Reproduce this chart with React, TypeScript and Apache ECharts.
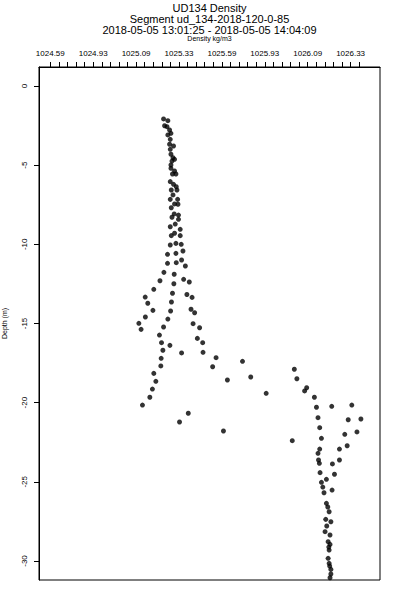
import React, { useEffect, useRef } from "react";
import * as echarts from "echarts";

const titleLines = [
  "UD134 Density",
  "Segment ud_134-2018-120-0-85",
  "2018-05-05 13:01:25 - 2018-05-05 14:04:09",
];

const densityLabelTexts = ["1024.59", "1024.93", "1025.09", "1025.33", "1025.59", "1025.93", "1026.09", "1026.33"];
const densityLabelValues = [1024.59, 1024.84, 1025.09, 1025.34, 1025.59, 1025.84, 1026.09, 1026.34];
const densityTickValues = [
  1024.59, 1024.64, 1024.69, 1024.74, 1024.79, 1024.84, 1024.89, 1024.94, 1024.99,
  1025.04, 1025.09, 1025.14, 1025.19, 1025.24, 1025.29, 1025.34, 1025.39, 1025.44, 1025.49, 1025.54,
  1025.59, 1025.64, 1025.69, 1025.74, 1025.79, 1025.84, 1025.89, 1025.94, 1025.99,
  1026.04, 1026.09, 1026.14, 1026.19, 1026.24, 1026.29, 1026.34, 1026.39,
];
const depthTickValues = [0, -5, -10, -15, -20, -25, -30];

const densityValues = [
  1025.250, 1025.275, 1025.256, 1025.270, 1025.285, 1025.293, 1025.275, 1025.289, 1025.285, 1025.308,
  1025.289, 1025.293, 1025.305, 1025.314, 1025.299, 1025.293, 1025.293, 1025.314, 1025.302, 1025.322,
  1025.289, 1025.308, 1025.324, 1025.295, 1025.328, 1025.305, 1025.289, 1025.332, 1025.314, 1025.334,
  1025.295, 1025.312, 1025.337, 1025.299, 1025.337, 1025.318, 1025.289, 1025.347, 1025.314, 1025.295,
  1025.347, 1025.322, 1025.289, 1025.353, 1025.273, 1025.322, 1025.363, 1025.273, 1025.324, 1025.355,
  1025.377, 1025.252, 1025.312, 1025.367, 1025.400, 1025.229, 1025.310, 1025.193, 1025.302, 1025.386,
  1025.416, 1025.143, 1025.158, 1025.296, 1025.188, 1025.291, 1025.410, 1025.431, 1025.144, 1025.275,
  1025.106, 1025.422, 1025.119, 1025.250, 1025.460, 1025.226, 1025.447, 1025.238, 1025.287, 1025.478,
  1025.246, 1025.355, 1025.480, 1025.236, 1025.556, 1025.710, 1025.234, 1025.536, 1025.193, 1025.758,
  1025.205, 1025.622, 1025.185, 1025.170, 1025.848, 1025.127, 1025.394, 1025.343, 1025.599, 1026.012,
  1026.027, 1026.084, 1026.072, 1026.129, 1026.141, 1026.230, 1026.347, 1026.150, 1026.326, 1026.400,
  1026.160, 1026.377, 1026.306, 1026.000, 1026.170, 1026.160, 1026.150, 1026.320, 1026.275, 1026.153,
  1026.158, 1026.275, 1026.234, 1026.162, 1026.170, 1026.199, 1026.246, 1026.185, 1026.232, 1026.199,
  1026.215, 1026.195, 1026.225, 1026.191, 1026.220, 1026.209, 1026.220, 1026.215, 1026.209, 1026.215,
  1026.225, 1026.220, 1026.178, 1026.207, 1026.201, 1026.213, 1026.218, 1026.225,
];

const depthValues = [
  -2.08, -2.19, -2.51, -2.57, -2.78, -2.99, -3.09, -3.37, -3.68, -3.79,
  -4.00, -4.31, -4.53, -4.63, -4.74, -4.99, -5.20, -5.37, -5.56, -5.56,
  -6.04, -6.21, -6.36, -6.57, -6.57, -6.88, -7.16, -7.16, -7.45, -7.47,
  -7.69, -8.08, -8.15, -8.29, -8.42, -8.72, -8.89, -9.05, -9.30, -9.45,
  -9.45, -9.94, -10.04, -10.00, -10.63, -10.57, -10.42, -11.20, -11.16, -10.99,
  -11.37, -11.77, -11.89, -12.21, -12.38, -12.30, -12.49, -12.84, -13.09, -13.17,
  -13.35, -13.33, -13.72, -13.64, -14.17, -14.21, -14.10, -14.32, -14.59, -14.72,
  -14.99, -15.01, -15.37, -15.22, -15.27, -15.73, -15.94, -16.21, -16.38, -16.21,
  -16.69, -16.86, -16.82, -17.20, -17.16, -17.39, -17.68, -17.73, -18.15, -18.38,
  -18.65, -18.57, -19.14, -19.66, -19.41, -20.15, -20.67, -21.22, -21.79, -17.89,
  -18.49, -19.06, -19.26, -19.66, -20.29, -20.23, -20.15, -20.95, -21.08, -21.03,
  -21.58, -21.85, -22.00, -22.40, -22.25, -22.93, -23.20, -22.72, -22.93, -23.62,
  -23.83, -23.62, -23.87, -24.42, -25.03, -24.84, -24.52, -25.69, -25.52, -26.36,
  -26.89, -27.37, -27.52, -28.15, -28.36, -28.78, -28.95, -29.31, -29.83, -30.15,
  -30.53, -31.06, -25.33, -26.59, -27.79, -29.12, -30.32, -30.82,
];

const FONT = "'Liberation Sans', Arial, sans-serif";

export default function App() {
  const ref = useRef<HTMLDivElement>(null);

  useEffect(() => {
    if (!ref.current) return;
    const chart = echarts.init(ref.current, undefined, { renderer: "svg" });
    const points = densityValues.map((d, i) => [d, depthValues[i]]);
    const near = (a: number, b: number) => Math.abs(a - b) < 1e-6;

    chart.setOption({
      animation: false,
      backgroundColor: "#fff",
      textStyle: { fontFamily: FONT },
      graphic: [
        { type: "text", x: 209.5, y: 8, style: { text: titleLines[0], fontSize: 11, fontFamily: FONT, fill: "#000", align: "center", verticalAlign: "middle" } },
        { type: "text", x: 209.5, y: 18.5, style: { text: titleLines[1], fontSize: 11, fontFamily: FONT, fill: "#000", align: "center", verticalAlign: "middle" } },
        { type: "text", x: 209.5, y: 29.5, style: { text: titleLines[2], fontSize: 11, fontFamily: FONT, fill: "#000", align: "center", verticalAlign: "middle" } },
      ],
      grid: {
        left: 39,
        right: 20,
        top: 67,
        bottom: 20,
        containLabel: false,
        outerBoundsMode: "none",
        show: true,
        borderColor: "#000",
        borderWidth: 1,
        backgroundColor: "transparent",
      },
      xAxis: {
        type: "value",
        position: "top",
        min: 1024.5241,
        max: 1026.5113,
        name: "Density kg/m3",
        nameLocation: "middle",
        nameGap: 25,
        nameTextStyle: { fontSize: 7, color: "#000000", fontFamily: FONT },
        axisLine: { show: true, onZero: false, lineStyle: { color: "#000", width: 1 } },
        axisTick: { show: true, inside: false, length: 5, customValues: densityTickValues, lineStyle: { color: "#000" } },
        axisLabel: {
          show: true,
          margin: 10,
          fontSize: 8,
          color: "#000",
          fontFamily: FONT,
          customValues: densityLabelValues,
          formatter: (v: number) => {
            const i = densityLabelValues.findIndex((x) => near(x, v));
            return i >= 0 ? densityLabelTexts[i] : "";
          },
        },
        splitLine: { show: false },
      },
      yAxis: {
        type: "value",
        min: -31.2,
        max: 1.2,
        name: "Depth (m)",
        nameLocation: "middle",
        nameGap: 31,
        nameTextStyle: { fontSize: 7, color: "#000000", fontFamily: FONT },
        axisLine: { show: true, onZero: false, lineStyle: { color: "#000", width: 1 } },
        axisTick: { show: true, inside: false, length: 5, customValues: depthTickValues, lineStyle: { color: "#000" } },
        axisLabel: {
          show: true,
          rotate: 90,
          margin: 11,
          fontSize: 8,
          color: "#000",
          fontFamily: FONT,
          customValues: depthTickValues,
          formatter: (v: number) => String(v),
        },
        splitLine: { show: false },
      },
      series: [
        {
          type: "scatter",
          data: points,
          symbol: "circle",
          symbolSize: 5,
          itemStyle: { color: "#000" },
        },
      ],
    });
    return () => chart.dispose();
  }, []);

  return <div ref={ref} style={{ position: "fixed", left: 0, top: 0, width: 400, height: 600 }} />;
}
